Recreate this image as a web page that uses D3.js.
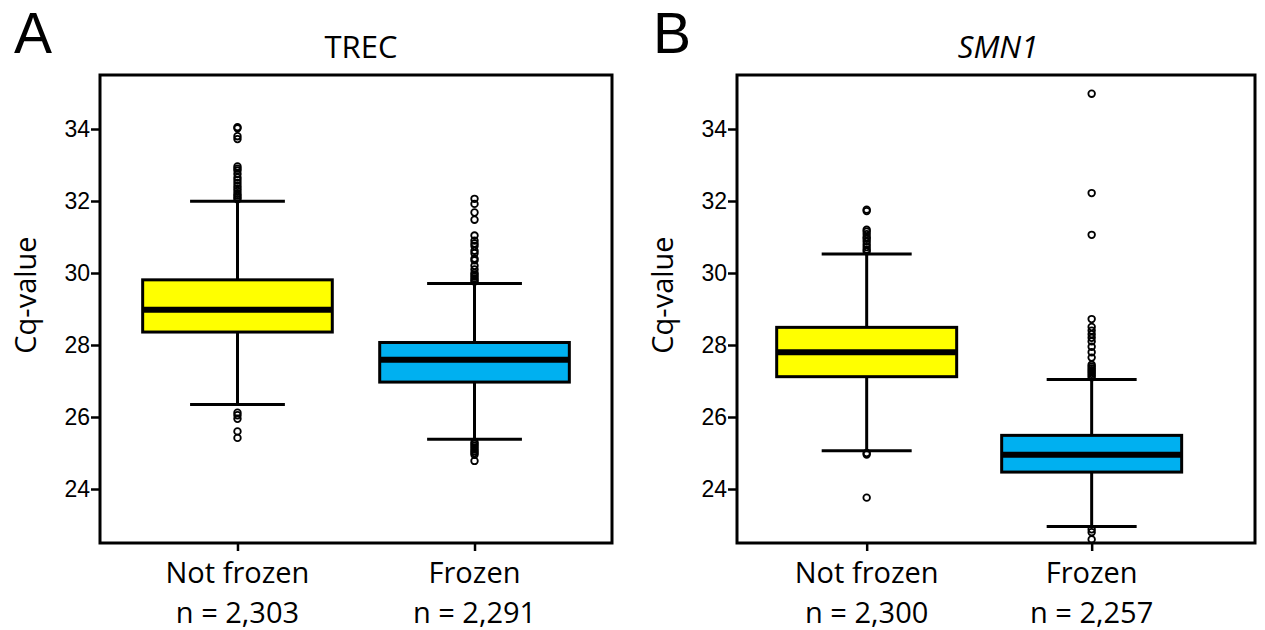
<!DOCTYPE html>
<html>
<head>
<meta charset="utf-8">
<script src="https://cdn.jsdelivr.net/npm/d3@7/dist/d3.min.js"></script>
<style>
  html, body { margin: 0; padding: 0; background: #fff; }
  svg { display: block; }
</style>
</head>
<body>
<svg id="chart" width="1265" height="630"></svg>
<script>
// ---------------- DATA ----------------
const categories = ["Not frozen", "Frozen"];
const yTicks = [24, 26, 28, 30, 32, 34];

const trecN = ["n = 2,303", "n = 2,291"];
const smnN = ["n = 2,300", "n = 2,257"];

// box stats: [lowerWhisker, Q1, median, Q3, upperWhisker]
const trecNotFrozen = [26.35, 28.36, 28.98, 29.81, 31.99];
const trecFrozen = [25.38, 26.97, 27.59, 28.07, 29.71];
const smnNotFrozen = [25.06, 27.12, 27.80, 28.49, 30.53];
const smnFrozen = [22.96, 24.47, 24.95, 25.49, 27.04];

const trecNotFrozenOut = [34.05, 34.02, 33.80, 33.72, 32.96, 32.90, 32.85, 32.75, 32.65, 32.58, 32.50, 32.42, 32.35, 32.28, 32.20, 32.15, 32.10, 32.05,
  26.12, 26.05, 25.95, 25.60, 25.42];
const trecFrozenOut = [32.06, 31.92, 31.68, 31.48, 31.04, 30.90, 30.82, 30.75, 30.62, 30.55, 30.40, 30.35, 30.20, 30.10, 30.00, 29.95, 29.90, 29.85, 29.80, 29.76,
  25.30, 25.25, 25.20, 25.15, 25.10, 25.05, 25.00, 24.95, 24.78];
const smnNotFrozenOut = [31.76, 31.72, 31.20, 31.15, 31.08, 31.00, 30.95, 30.88, 30.80, 30.72, 30.65, 30.60,
  25.00, 24.96, 23.76];
const smnFrozenOut = [34.98, 32.22, 31.06, 28.72, 28.50, 28.40, 28.30, 28.20, 28.10, 27.95, 27.80, 27.65, 27.45, 27.40, 27.35, 27.30, 27.25, 27.20, 27.15, 27.10,
  22.88, 22.80, 22.60];

const boxColors = ["#FFFF00", "#00B0F0"];

// ---------------- DRAW ----------------
const svg = d3.select("#chart");

function drawPanel(opt) {
  const g = svg.append("g");
  const x = d3.scaleLinear().domain(opt.xDomain).range([opt.left, opt.right]);
  const y = d3.scaleLinear().domain([22.5, 35.5]).range([543, 75]);

  const stats = opt.stats;
  const outs = opt.outliers;
  const halfBox = 0.4, halfCap = 0.2;

  // frame
  g.append("rect")
    .attr("x", opt.left).attr("y", y(35.5))
    .attr("width", opt.right - opt.left).attr("height", y(22.5) - y(35.5))
    .attr("fill", "none").attr("stroke", "#000").attr("stroke-width", 3);

  // y axis
  const yAxis = g.append("g")
    .attr("transform", `translate(${opt.left},0)`)
    .call(d3.axisLeft(y).tickValues(yTicks).tickSize(9).tickPadding(1).tickFormat(d3.format("d")));
  yAxis.select(".domain").remove();
  yAxis.selectAll(".tick line").attr("stroke", "#000").attr("stroke-width", 2.5);
  yAxis.selectAll(".tick text")
    .attr("fill", "#000")
    .style("font-family", "'Liberation Sans', Arial, sans-serif")
    .style("font-size", "23px");

  // x axis ticks
  const xAxis = g.append("g")
    .attr("transform", `translate(0,${y(22.5)})`)
    .call(d3.axisBottom(x).tickValues([1, 2]).tickSize(8).tickFormat(""));
  xAxis.select(".domain").remove();
  xAxis.selectAll(".tick line").attr("stroke", "#000").attr("stroke-width", 2.5);

  stats.forEach((s, i) => {
    const cx = x(i + 1);
    const [lw, q1, med, q3, uw] = s;
    // whiskers
    g.append("line").attr("x1", cx).attr("x2", cx).attr("y1", y(uw)).attr("y2", y(q3))
      .attr("stroke", "#000").attr("stroke-width", 3);
    g.append("line").attr("x1", cx).attr("x2", cx).attr("y1", y(q1)).attr("y2", y(lw))
      .attr("stroke", "#000").attr("stroke-width", 3);
    [lw, uw].forEach(v => {
      g.append("line").attr("x1", x(i + 1 - halfCap)).attr("x2", x(i + 1 + halfCap))
        .attr("y1", y(v)).attr("y2", y(v)).attr("stroke", "#000").attr("stroke-width", 3);
    });
    // box
    g.append("rect")
      .attr("x", x(i + 1 - halfBox)).attr("y", y(q3))
      .attr("width", x(i + 1 + halfBox) - x(i + 1 - halfBox)).attr("height", y(q1) - y(q3))
      .attr("fill", boxColors[i]).attr("stroke", "#000").attr("stroke-width", 3);
    // median
    g.append("line").attr("x1", x(i + 1 - halfBox)).attr("x2", x(i + 1 + halfBox))
      .attr("y1", y(med)).attr("y2", y(med)).attr("stroke", "#000").attr("stroke-width", 6);
    // outliers
    g.selectAll(null).data(outs[i]).enter().append("circle")
      .attr("cx", cx).attr("cy", d => y(d)).attr("r", 3.3)
      .attr("fill", "none").attr("stroke", "#000").attr("stroke-width", 1.8);

    // category labels
    g.append("text").attr("x", cx).attr("y", 583).attr("text-anchor", "middle")
      .style("font-family", "'Open Sans', sans-serif").style("font-size", "29px")
      .text(categories[i]);
    g.append("text").attr("x", cx).attr("y", 623).attr("text-anchor", "middle")
      .style("font-family", "'Open Sans', sans-serif").style("font-size", "29px")
      .text(opt.nLabels[i]);
  });

  // title
  g.append("text").attr("x", opt.titleX).attr("y", 58).attr("text-anchor", "middle")
    .style("font-family", "'Open Sans', sans-serif").style("font-size", "31px")
    .style("font-style", opt.italic ? "italic" : "normal")
    .text(opt.title);

  // panel letter
  g.append("text").attr("x", opt.letterX).attr("y", 53)
    .style("font-family", "'Liberation Sans', Arial, sans-serif").style("font-size", "57px")
    .text(opt.letter);

  // y label
  g.append("text")
    .attr("transform", `translate(${opt.ylabX},295) rotate(-90)`)
    .attr("text-anchor", "middle")
    .style("font-family", "'Open Sans', sans-serif").style("font-size", "29px")
    .text("Cq-value");
}

drawPanel({
  left: 100, right: 612, xDomain: [0.42, 2.58],
  stats: [trecNotFrozen, trecFrozen],
  outliers: [trecNotFrozenOut, trecFrozenOut],
  nLabels: trecN, title: "TREC", italic: false, titleX: 361,
  letter: "A", letterX: 14, ylabX: 36
});

drawPanel({
  left: 737, right: 1255, xDomain: [0.4236, 2.726],
  stats: [smnNotFrozen, smnFrozen],
  outliers: [smnNotFrozenOut, smnFrozenOut],
  nLabels: smnN, title: "SMN1", italic: true, titleX: 998,
  letter: "B", letterX: 653, ylabX: 673
});
</script>
</body>
</html>
